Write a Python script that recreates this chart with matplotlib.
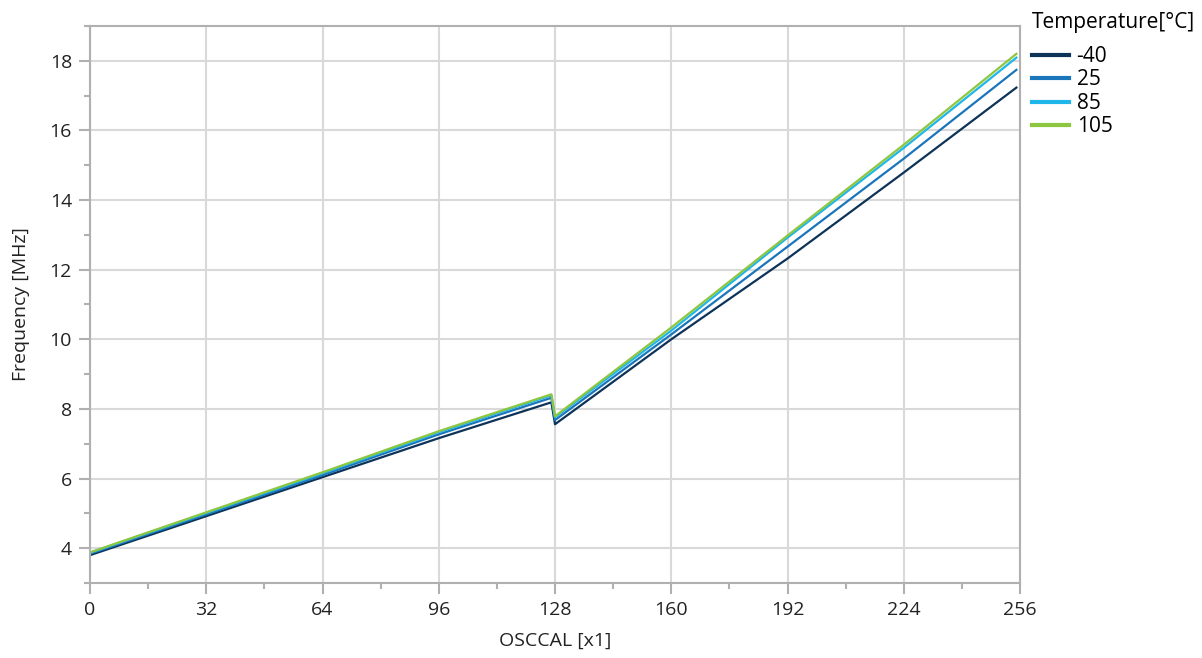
import matplotlib
matplotlib.use('Agg')
from matplotlib import pyplot as plt
from matplotlib.ticker import MultipleLocator

plt.rcParams['font.family'] = ['Open Sans', 'DejaVu Sans']

# OSCCAL setting read at a few points along each curve (jump between 127 and 128)
osccal = [0, 32, 64, 96, 127, 128, 160, 192, 224, 255]
temps = ['-40', '25', '85', '105']
f_m40 = [3.80, 4.92, 6.04, 7.16, 8.19, 7.56, 10.00, 12.32, 14.79, 17.23]
f_25 = [3.84, 4.97, 6.10, 7.27, 8.32, 7.68, 10.14, 12.66, 15.19, 17.74]
f_85 = [3.87, 5.01, 6.15, 7.33, 8.39, 7.76, 10.25, 12.92, 15.50, 18.09]
f_105 = [3.88, 5.03, 6.18, 7.36, 8.42, 7.79, 10.34, 12.98, 15.59, 18.20]
colors = ['#0d3358', '#1a75bb', '#1fb6ea', '#8dc63f']

fig = plt.figure(figsize=(12.02, 6.58), dpi=100)
ax = fig.add_axes([0.0749, 0.114, 0.7737, 0.8465])

for vals, lab, c in zip([f_m40, f_25, f_85, f_105], temps, colors):
    ax.plot(osccal, vals, color=c, lw=1.6, label=lab)

ax.set_xlim(0, 256)
ax.set_ylim(3, 19)
ax.xaxis.set_major_locator(MultipleLocator(32))
ax.xaxis.set_minor_locator(MultipleLocator(16))
ax.yaxis.set_major_locator(MultipleLocator(2))
ax.yaxis.set_minor_locator(MultipleLocator(1))
ax.set_yticks([4, 6, 8, 10, 12, 14, 16, 18])

ax.grid(which='major', color='#d9d9d9', lw=1.5)
ax.set_axisbelow(True)
for s in ax.spines.values():
    s.set_color('#b0b0b0')
    s.set_linewidth(1.5)
ax.tick_params(which='major', length=8, width=1.5, color='#b0b0b0', pad=5,
               labelsize=14, labelcolor='#222222', direction='out')
ax.tick_params(which='minor', length=4, width=1.5, color='#b0b0b0', direction='out')

ax.set_xlabel('OSCCAL [x1]', fontsize=14, color='#222222', labelpad=9)
ax.set_ylabel('Frequency [MHz]', fontsize=14, color='#222222', labelpad=14)

leg = ax.legend(title='Temperature[°C]', loc='upper left', bbox_to_anchor=(0.848, 1.0),
                bbox_transform=fig.transFigure, frameon=False, fontsize=15,
                title_fontsize=15, handlelength=1.8, handletextpad=0.35,
                labelspacing=0.12, borderaxespad=0.2)
leg._legend_box.align = 'left'
leg._legend_box.sep = 9
for h in leg.get_lines():
    h.set_linewidth(3)

fig.savefig('out.png', dpi=100)
